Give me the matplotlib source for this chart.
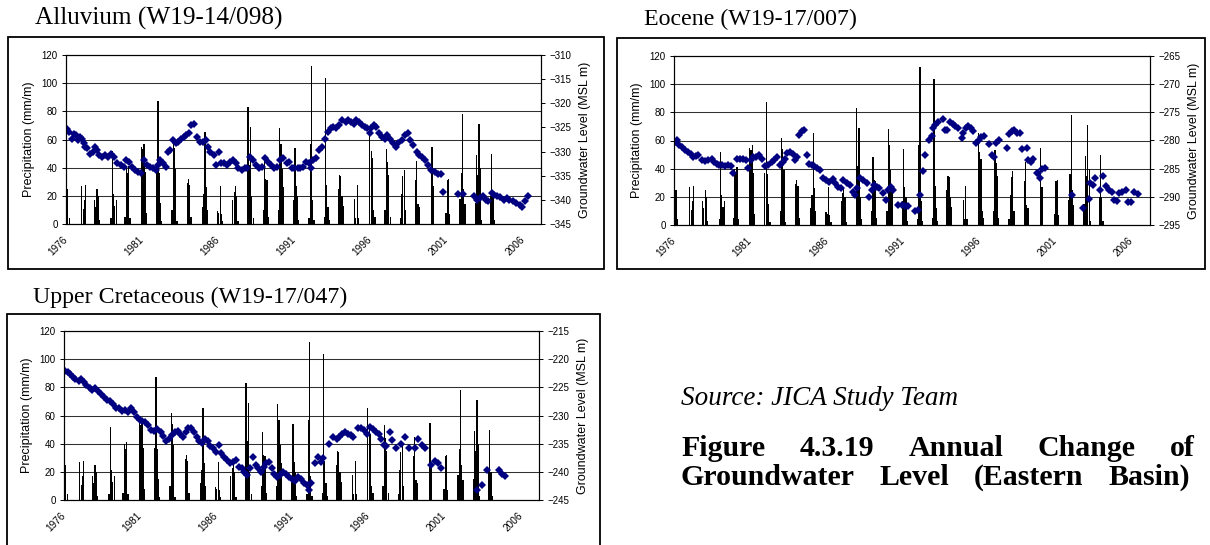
"""Annual change of groundwater level in the Eastern Basin.

Monthly wet-season rainfall (bars, left axis) with observed well water level
(diamonds, right axis) for three aquifers, laid out as a report page.
"""

import matplotlib
matplotlib.use("Agg")  # headless
import matplotlib.pyplot as plt
import numpy as np
from matplotlib.patches import Rectangle

W, H = 1210, 545
SERIF = "Liberation Serif"
SANS = "Liberation Sans"
NAVY = "#000080"

# wet-season rainfall (mm/month), Oct..Apr, each season named by its January year
SEASON_YEARS = list(range(1976, 2005))
SEASON_MONTHS = [10, 11, 12, 1, 2, 3, 4]
SEASON_RAIN = [
    [0, 0, 0, 23, 25, 4, 0],
    [0, 0, 0, 27, 11, 17, 28],
    [0, 17, 12, 25, 20, 3, 0],
    [0, 0, 4, 52, 21, 13, 17],
    [0, 5, 40, 36, 41, 4, 0],
    [0, 0, 55, 53, 57, 37, 8],
    [0, 0, 37, 87, 36, 15, 2],
    [0, 0, 10, 62, 54, 39, 2],
    [0, 0, 29, 32, 28, 5, 0],
    [0, 0, 12, 21, 65, 26, 10],
    [0, 0, 9, 8, 27, 7, 2],
    [0, 0, 17, 23, 27, 20, 2],
    [0, 0, 83, 42, 69, 20, 4],
    [0, 0, 10, 48, 32, 31, 5],
    [0, 0, 10, 68, 57, 39, 26],
    [0, 0, 17, 54, 27, 20, 3],
    [0, 0, 4, 57, 112, 17, 3],
    [0, 0, 5, 104, 28, 12, 3],
    [0, 25, 35, 34, 20, 13, 0],
    [0, 0, 18, 4, 28, 4, 0],
    [0, 0, 65, 52, 47, 10, 5],
    [0, 0, 10, 53, 44, 35, 5],
    [0, 0, 4, 21, 34, 38, 10],
    [0, 0, 31, 45, 14, 12, 0],
    [0, 0, 0, 55, 27, 0, 0],
    [0, 0, 8, 31, 32, 7, 0],
    [0, 18, 36, 78, 25, 14, 0],
    [0, 15, 49, 35, 71, 40, 3],
    [0, 20, 50, 20, 3, 0, 0],
]

# Alluvium well W19-14/098: observation date (decimal year), level (MSL m)
ALLUVIUM_T = [
    1976.05, 1976.21, 1976.38, 1976.51, 1976.64, 1976.77, 1976.90,
    1977.03, 1977.15, 1977.28, 1977.41, 1977.59, 1977.79, 1977.92,
    1978.05, 1978.18, 1978.36, 1978.56, 1978.74, 1978.95,
    1979.13, 1979.33, 1979.59, 1979.79, 1979.97,
    1980.15, 1980.36, 1980.56, 1980.74, 1980.92,
    1981.13, 1981.33, 1981.51, 1981.72, 1981.90,
    1982.03, 1982.15, 1982.36, 1982.54, 1982.67, 1982.85,
    1983.05, 1983.23, 1983.38, 1983.56, 1983.74, 1983.90,
    1984.08, 1984.21, 1984.38, 1984.59, 1984.77, 1984.97,
    1985.18, 1985.36, 1985.49, 1985.69, 1985.87,
    1986.05, 1986.21, 1986.38, 1986.56, 1986.77, 1986.95,
    1987.15, 1987.33, 1987.54, 1987.74, 1987.92,
    1988.10, 1988.31, 1988.51, 1988.69, 1988.87,
    1989.08, 1989.28, 1989.46, 1989.64, 1989.85,
    1990.05, 1990.26, 1990.49, 1990.67, 1990.82,
    1991.00, 1991.21, 1991.38, 1991.59, 1991.79, 1991.95,
    1992.08, 1992.21, 1992.41, 1992.62, 1992.82,
    1993.00, 1993.18, 1993.38, 1993.56, 1993.74, 1993.95,
    1994.15, 1994.36, 1994.54, 1994.72, 1994.90,
    1995.08, 1995.23, 1995.44, 1995.62, 1995.79, 1995.95,
    1996.05, 1996.21, 1996.38, 1996.56, 1996.77, 1996.95,
    1997.10, 1997.28, 1997.46, 1997.67, 1997.79,
    1998.05, 1998.26, 1998.44, 1998.62, 1998.82,
    1999.03, 1999.21, 1999.38, 1999.59, 1999.77,
    2000.00, 2000.23, 2000.45, 2000.60, 2000.77,
    2001.76,
    2002.09, 2002.79, 2002.97,
    2003.18, 2003.40, 2003.58, 2003.73, 2003.95,
    2004.12, 2004.28, 2004.50, 2004.76, 2004.94,
    2005.11, 2005.33, 2005.55, 2005.81, 2005.96,
    2006.14, 2006.36,
]
ALLUVIUM_GWL = [
    -325.4, -325.9, -327.3, -326.4, -326.6, -327.6, -326.9, -327.5, -328.3, -329.0,
    -329.3, -330.4, -330.0, -329.0, -329.7, -330.7, -331.1, -330.7, -331.1, -330.4,
    -331.1, -332.4, -332.8, -333.1, -331.7, -332.1, -333.1, -333.8, -334.2, -334.5,
    -331.7, -332.8, -333.1, -333.5, -333.8, -332.8, -331.7, -332.4, -333.1, -330.0,
    -329.7, -327.6, -328.3, -328.0, -327.3, -326.9, -326.6, -326.2, -324.5, -324.2,
    -326.9, -328.0, -328.0, -327.6, -329.0, -330.0, -330.7, -332.8, -330.0, -332.4,
    -332.4, -332.8, -332.1, -331.7, -332.4, -333.5, -333.8, -333.5, -333.5, -331.1,
    -331.7, -332.8, -333.5, -333.1, -331.4, -332.1, -332.8, -333.5, -333.1, -331.7,
    -331.4, -332.4, -332.1, -333.5, -333.5, -333.5, -333.5, -333.1, -332.1, -332.4,
    -333.5, -331.7, -331.4, -329.7, -329.0, -327.3, -325.9, -325.2, -324.9, -325.2,
    -324.5, -323.5, -323.8, -323.5, -323.8, -324.2, -323.5, -323.8, -324.5, -324.9,
    -325.2, -326.2, -325.2, -324.5, -324.9, -326.2, -326.9, -327.3, -326.6, -327.3,
    -328.3, -329.0, -328.3, -327.6, -326.6, -326.2, -327.6, -328.6, -330.0, -330.7,
    -331.1, -331.7, -332.8, -333.8, -334.3, -334.6, -334.6, -338.3, -338.7, -338.7,
    -339.3, -340.1, -339.6, -339.1, -340.1, -340.3, -338.6, -338.9, -339.3, -339.5,
    -340.1, -339.6, -340.0, -340.3, -340.7, -341.0, -341.5, -340.3, -339.3,
]

# Eocene well W19-17/007
EOCENE_T = [
    1976.00, 1976.17, 1976.35, 1976.50, 1976.72, 1976.94,
    1977.09, 1977.27, 1977.44, 1977.60, 1977.81,
    1978.03, 1978.25, 1978.47, 1978.62, 1978.80, 1978.97,
    1979.13, 1979.34, 1979.56, 1979.74, 1979.89,
    1980.11, 1980.33, 1980.50, 1980.72, 1980.87,
    1981.03, 1981.20, 1981.38, 1981.60, 1981.75, 1981.97,
    1982.19, 1982.40, 1982.58, 1982.73, 1982.95,
    1983.13, 1983.28, 1983.43, 1983.61, 1983.78, 1983.93,
    1984.09, 1984.22, 1984.37, 1984.52, 1984.70, 1984.87,
    1985.03, 1985.18, 1985.36, 1985.57, 1985.79, 1985.97,
    1986.19, 1986.40, 1986.56, 1986.78, 1986.93,
    1987.10, 1987.32, 1987.54, 1987.72, 1987.87,
    1988.02, 1988.20, 1988.37, 1988.64, 1988.81, 1988.96,
    1989.11, 1989.29, 1989.46, 1989.68, 1989.90,
    1990.05, 1990.21, 1990.34, 1990.71, 1990.93,
    1991.15, 1991.36, 1991.80,
    1992.02, 1992.13, 1992.35, 1992.46, 1992.74, 1992.90,
    1993.00, 1993.11, 1993.33, 1993.66, 1993.77, 1993.92,
    1994.10, 1994.27, 1994.43, 1994.64, 1994.86, 1994.97,
    1995.15, 1995.30, 1995.48, 1995.63, 1995.80, 1995.96,
    1996.11, 1996.29, 1996.66, 1996.83, 1996.99,
    1997.12, 1997.27, 1997.82, 1997.97,
    1998.14, 1998.30, 1998.47, 1998.69, 1998.84,
    1999.13, 1999.23, 1999.39, 1999.56, 1999.78, 1999.89,
    2000.00, 2000.15, 2000.33,
    2002.12, 2002.84,
    2003.17, 2003.28, 2003.45, 2003.61, 2003.89,
    2004.11, 2004.33, 2004.53, 2004.70, 2004.86,
    2005.03, 2005.20, 2005.36, 2005.64, 2005.79, 2005.97,
    2006.16, 2006.41,
]
EOCENE_GWL = [
    -280.4, -280.0, -280.8, -281.1, -281.7, -282.0,
    -282.4, -283.0, -282.8, -282.6, -283.5,
    -283.6, -283.5, -283.2, -283.8, -284.1, -284.3,
    -284.3, -284.6, -284.3, -284.5, -285.7,
    -283.2, -283.2, -283.3, -283.5, -284.8,
    -283.5, -283.0, -282.9, -282.6, -283.2, -284.6,
    -284.3, -283.8, -283.5, -282.9, -284.3,
    -283.8, -283.2, -282.3, -282.0, -282.4, -283.5,
    -282.9, -279.0, -278.4, -278.1, -282.6, -284.1,
    -284.3, -284.6, -284.9, -285.2, -286.7, -287.0,
    -287.3, -286.9, -287.6, -288.2, -288.5,
    -287.0, -287.5, -287.9, -289.1, -289.7,
    -288.5, -286.7, -287.1, -287.5, -290.0, -288.8,
    -287.9, -288.2, -288.5, -289.4, -290.6,
    -288.8, -288.3, -288.8, -291.4, -291.4,
    -291.7, -291.6, -292.6,
    -292.3, -289.7, -285.4, -282.6, -279.9, -279.2,
    -277.7, -277.2, -276.7, -276.2, -278.1, -278.1,
    -276.7, -277.0, -277.4, -277.8, -279.5, -278.7,
    -277.7, -277.4, -277.8, -278.4, -280.5, -279.9,
    -279.4, -279.2, -280.7, -282.6, -283.0,
    -280.4, -279.9, -281.4, -278.8,
    -278.4, -278.1, -278.7, -278.6, -281.5,
    -281.3, -283.5, -283.8, -283.2, -285.7, -285.8,
    -286.7, -285.1, -284.9,
    -289.7, -292.0,
    -290.4, -287.6, -287.9, -286.7, -288.8,
    -286.3, -288.1, -288.7, -289.1, -290.6,
    -290.7, -289.3, -289.1, -288.7, -290.9, -291.0,
    -289.1, -289.5,
]

# Upper Cretaceous well W19-17/047
CRETACEOUS_T = [
    1976.05, 1976.23, 1976.39, 1976.57, 1976.75, 1976.96,
    1977.14, 1977.29, 1977.47, 1977.68, 1977.86,
    1978.04, 1978.25, 1978.43, 1978.64, 1978.82,
    1979.03, 1979.23, 1979.41, 1979.59, 1979.80,
    1980.01, 1980.19, 1980.37, 1980.58, 1980.78, 1980.97,
    1981.15, 1981.35, 1981.53, 1981.74, 1981.92,
    1982.13, 1982.34, 1982.52, 1982.70, 1982.90,
    1983.09, 1983.29, 1983.47, 1983.63, 1983.81, 1983.99,
    1984.15, 1984.33, 1984.51, 1984.72, 1984.90,
    1985.05, 1985.23, 1985.44, 1985.62, 1985.80,
    1986.01, 1986.19, 1986.34, 1986.52, 1986.73, 1986.91,
    1987.09, 1987.30, 1987.48, 1987.66, 1987.82,
    1988.03, 1988.21, 1988.39, 1988.59, 1988.77, 1988.93,
    1989.11, 1989.29, 1989.47, 1989.63, 1989.81,
    1990.02, 1990.20, 1990.40, 1990.59, 1990.79, 1990.97,
    1991.18, 1991.36, 1991.57, 1991.75, 1991.96,
    1992.06, 1992.21, 1992.47, 1992.68, 1992.86,
    1993.04, 1993.38, 1993.69, 1993.90,
    1994.08, 1994.28, 1994.49, 1994.67, 1994.85,
    1995.01, 1995.32, 1995.52, 1995.71, 1995.89,
    1996.09, 1996.30, 1996.48, 1996.66, 1996.82,
    1997.00, 1997.18, 1997.39, 1997.57, 1997.83,
    1998.11, 1998.42, 1998.68,
    1999.07, 1999.25, 1999.51, 1999.71,
    2000.10, 2000.36, 2000.57, 2000.75,
    2003.15, 2003.46, 2003.77,
    2004.58, 2004.76, 2004.96,
]
CRETACEOUS_GWL = [
    -222.1, -222.2, -222.7, -223.1, -223.5, -223.9,
    -223.5, -224.1, -224.6, -225.1, -225.5,
    -225.2, -225.7, -226.1, -226.7, -227.2,
    -227.5, -228.0, -228.6, -228.7, -229.2,
    -229.0, -229.3, -228.7, -229.3, -230.2, -230.8,
    -231.0, -231.1, -231.7, -232.6, -232.8,
    -232.4, -232.9, -233.6, -234.5, -234.1,
    -233.5, -232.9, -232.8, -233.2, -233.8, -232.9,
    -232.3, -232.3, -232.9, -233.8, -234.6,
    -234.9, -234.2, -234.6, -235.5, -235.8,
    -236.4, -235.2, -236.7, -237.3, -237.9, -238.5,
    -238.2, -237.9, -239.1, -239.4, -240.0,
    -240.6, -239.4, -237.3, -238.8, -239.3, -240.0,
    -239.1, -238.5, -238.2, -239.4, -240.3,
    -240.9, -240.6, -240.0, -240.3, -240.9, -241.2,
    -241.6, -240.9, -241.3, -241.9, -242.3,
    -243.2, -242.0, -238.5, -237.3, -238.2,
    -237.6, -235.1, -233.9, -234.1,
    -233.8, -233.2, -232.9, -233.2, -233.5,
    -233.8, -232.3, -232.2, -232.6, -233.2,
    -232.0, -232.4, -232.9, -233.3, -234.1,
    -235.2, -235.5, -232.9, -234.3, -235.8,
    -235.1, -233.9, -235.8,
    -235.8, -234.1, -235.2, -235.8,
    -238.8, -238.1, -238.5, -239.3,
    -243.2, -242.3, -239.7,
    -239.7, -240.3, -240.8,
]

YEAR_TICKS = list(range(1976, 2007, 5))

CAPTION_LINES = ["Figure 4.3.19 Annual Change of",
                 "Groundwater Level (Eastern Basin)"]


def px(x, y):
    """page pixel (from top-left) -> figure fraction"""
    return x / W, 1 - y / H


def monthly_rain():
    t, mm = [], []
    for yr, row in zip(SEASON_YEARS, SEASON_RAIN):
        for mon, v in zip(SEASON_MONTHS, row):
            start = yr - 1 if mon >= 10 else yr
            t.append(start + (mon - 0.5) / 12)
            mm.append(v)
    return np.array(t), np.array(mm)


def justified_line(fig, text, x0, x1, y, **kw):
    """lay the words of one line out so they fill x0..x1 (pixels)"""
    renderer = fig.canvas.get_renderer()
    words = [fig.text(*px(x0, y), w, ha="left", va="baseline", **kw)
             for w in text.split()]
    widths = [w.get_window_extent(renderer).width for w in words]
    gap = (x1 - x0 - sum(widths)) / max(len(words) - 1, 1)
    x = x0
    for w, wd in zip(words, widths):
        w.set_position(px(x, y))
        x += wd + gap


def draw_panel(fig, plot_px, box_px, title, title_px, title_size, t, gwl, lo, hi):
    # frame around the chart object
    bx0, by0, bx1, by1 = box_px
    fig.patches.append(Rectangle(px(bx0, by1), (bx1 - bx0) / W, (by1 - by0) / H,
                                 transform=fig.transFigure, fill=False,
                                 ec="black", lw=1.3))
    fig.text(*px(*title_px), title, family=SERIF, fontsize=title_size,
             ha="left", va="baseline")

    l, tp, r, b = plot_px
    ax = fig.add_axes([l / W, 1 - b / H, (r - l) / W, (b - tp) / H])
    rain_t, rain_mm = monthly_rain()
    ax.bar(rain_t, rain_mm, width=0.078, color="black", linewidth=0,
           antialiased=False)
    ax.set_xlim(1976, 2007.2)
    ax.set_ylim(0, 120)
    ax.set_yticks(range(0, 121, 20))
    ax.yaxis.grid(True, color="#303030", lw=0.75)
    ax.set_axisbelow(True)
    ax.set_xticks(YEAR_TICKS)
    ax.set_xticklabels([str(y) for y in YEAR_TICKS], rotation=45, ha="right",
                       va="center", rotation_mode="anchor")
    ax.tick_params(axis="x", length=0, pad=10, labelsize=7.2)
    ax.tick_params(axis="y", length=3, width=0.7, pad=3, labelsize=7)
    ax.set_ylabel("Precipitation (mm/m)", fontsize=9)
    ax.yaxis.set_label_coords(-31 / (r - l), 0.5)
    for s in ax.spines.values():
        s.set_linewidth(0.8)

    ax2 = ax.twinx()
    ax2.plot(t, gwl, ls="none", marker="D", ms=4.2, mew=0, color=NAVY)
    ax2.set_ylim(lo, hi)
    ax2.set_yticks(np.arange(lo, hi + 1, 5))
    ax2.tick_params(axis="y", length=3, width=0.7, pad=3, labelsize=7)
    ax2.set_ylabel("Groundwater Level (MSL m)", fontsize=9)
    ax2.yaxis.set_label_coords(1 + 38 / (r - l), 0.5)
    for s in ax2.spines.values():
        s.set_linewidth(0.8)
    return ax, ax2


def main():
    plt.rcParams["font.family"] = [SANS, "DejaVu Sans"]
    fig = plt.figure(figsize=(W / 100, H / 100), dpi=100)

    draw_panel(fig, (66, 55, 541, 224), (8, 37, 604, 269),
               "Alluvium (W19-14/098)", (35, 25), 18.2,
               ALLUVIUM_T, ALLUVIUM_GWL, -345, -310)
    draw_panel(fig, (674, 56, 1150, 225), (617, 38, 1205, 269),
               "Eocene (W19-17/007)", (644, 25), 17.2,
               EOCENE_T, EOCENE_GWL, -295, -265)
    draw_panel(fig, (64, 331, 539, 500), (7, 314, 600, 570),
               "Upper Cretaceous (W19-17/047)", (33, 303), 17.2,
               CRETACEOUS_T, CRETACEOUS_GWL, -245, -215)

    fig.text(*px(681, 405), "Source: JICA Study Team", family=SERIF,
             style="italic", fontsize=19.5, ha="left", va="baseline")
    justified_line(fig, CAPTION_LINES[0], 681, 1195, 456,
                   family=SERIF, weight="bold", fontsize=21.5)
    justified_line(fig, CAPTION_LINES[1], 681, 1190, 485,
                   family=SERIF, weight="bold", fontsize=21.5)

    fig.savefig("out.png", dpi=100)


if __name__ == "__main__":
    main()
